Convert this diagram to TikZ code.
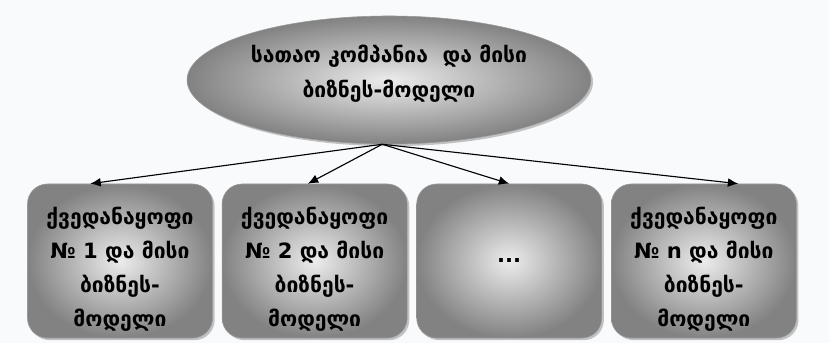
\documentclass[tikz,border=0pt]{standalone}
\usepackage{fontspec}
\newfontfamily\geofont[Script=Georgian]{DejaVu Sans}
\usepackage{tikz}
\usetikzlibrary{arrows.meta,positioning,shapes.geometric,shadows}
\definecolor{bgpaper}{RGB}{248,250,252}
\definecolor{shdark}{RGB}{130,130,130}
\definecolor{shlight}{RGB}{236,236,236}
% extra room above the first line / below the last line
\newcommand{\topgap}{\rule{0pt}{24pt}}
\newcommand{\botgap}{\rule[-12pt]{0pt}{12pt}}

\begin{document}
\begin{tikzpicture}[x=0.025cm,y=0.025cm,
  u/.style={rectangle,draw=gray!80,rounded corners=5mm,minimum width=4.625cm,minimum height=3.85cm,align=center,
    inner color=shlight,outer color=shdark,drop shadow={shadow xshift=1.5pt,shadow yshift=-1.5pt,opacity=0.45},
    font=\geofont\bfseries\fontsize{15}{24}\selectfont},
  h/.style={ellipse,draw=gray!80,minimum width=9.9cm,minimum height=3.2cm,align=center,
    inner color=shlight,outer color=shdark,drop shadow={shadow xshift=1.5pt,shadow yshift=-1.5pt,opacity=0.45},
    font=\geofont\bfseries\fontsize{15}{25}\selectfont},
  a/.style={-{Latex[length=2.6mm,width=2.2mm]},thick}]
  \fill[bgpaper] (0,0) rectangle (829,343);
  \useasboundingbox (0,0) rectangle (829,343);

  \node[h] (e) at (389,263) {სათაო კომპანია\ \ და მისი\\ბიზნეს-მოდელი\botgap};

  \node[u] (b1) at (120,82) {\topgap ქვედანაყოფი\\№ 1 და მისი\\ბიზნეს-\\მოდელი};
  \node[u,right=0.225cm of b1] (b2) {\topgap ქვედანაყოფი\\№ 2 და მისი\\ბიზნეს-\\მოდელი};
  \node[u,right=0.225cm of b2] (b3) {...};
  \node[u,right=0.225cm of b3] (b4) {\topgap ქვედანაყოფი\\№ n და მისი\\ბიზნეს-\\მოდელი};

  \draw[a] (e.-96) -- (b1.111);
  \draw[a] (e.-96) -- (b2.95);
  \draw[a] (e.-96) -- (b3.north);
  \draw[a] (e.-96) -- (b4.66);
\end{tikzpicture}
\end{document}
